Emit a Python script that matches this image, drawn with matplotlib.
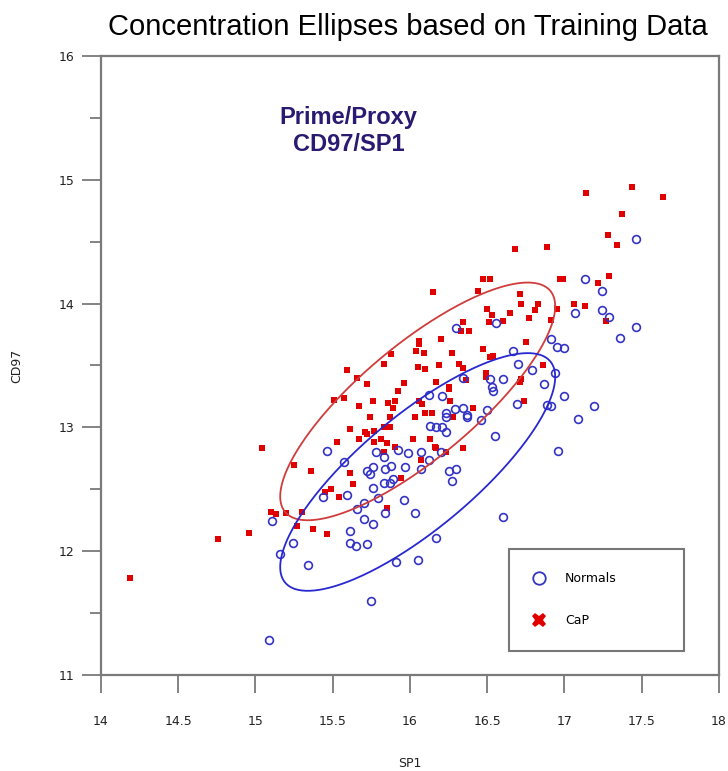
import numpy as np
import matplotlib
matplotlib.use("Agg")
import matplotlib.pyplot as plt
from matplotlib.lines import Line2D
from matplotlib.ticker import MultipleLocator

# CaP (red) training points: SP1, CD97
cap_sp1 = [14.19, 14.76, 14.96, 15.04, 15.10, 15.13, 15.20, 15.30, 15.27, 15.37,
           15.46, 15.25, 15.36, 15.45, 15.49, 15.54, 15.61, 15.63, 15.85, 15.94,
           16.07, 15.83, 15.53, 15.61, 15.67, 15.71, 15.72, 15.77, 15.77, 15.81,
           15.85, 15.90, 15.83, 15.87, 16.02, 16.13, 16.16, 16.17, 16.23, 16.34,
           15.74, 15.87, 16.03, 15.51, 15.57, 15.67, 15.76, 15.86, 15.90, 15.89,
           16.06, 16.08, 16.10, 16.14, 16.26, 16.41, 16.28, 15.59, 15.66, 15.72,
           15.83, 15.88, 15.92, 15.96, 16.04, 16.09, 16.05, 16.10, 16.19, 16.17,
           16.25, 16.25, 16.06, 16.06, 16.20, 16.27, 16.32, 16.34, 16.36, 16.49,
           16.49, 16.71, 16.72, 16.74, 16.86, 16.47, 16.52, 16.54, 16.75, 16.34,
           16.33, 16.38, 16.51, 16.60, 16.53, 16.65, 16.77, 16.91, 16.50, 16.81,
           16.72, 16.83, 16.95, 17.06, 17.13, 17.27, 16.71, 16.44, 16.15, 16.47,
           16.52, 16.97, 16.99, 17.22, 17.29, 16.68, 16.89, 17.28, 17.34, 17.37,
           17.14, 17.44, 17.64]
cap_cd97 = [11.78, 12.10, 12.15, 12.83, 12.32, 12.30, 12.31, 12.32, 12.20, 12.18,
            12.14, 12.70, 12.65, 12.48, 12.50, 12.44, 12.63, 12.54, 12.35, 12.59,
            12.74, 12.80, 12.88, 12.99, 12.91, 12.96, 12.95, 12.97, 12.88, 12.91,
            12.87, 12.84, 13.00, 13.00, 12.91, 12.91, 12.84, 12.83, 12.80, 12.83,
            13.08, 13.08, 13.08, 13.22, 13.24, 13.17, 13.21, 13.20, 13.21, 13.16,
            13.21, 13.19, 13.12, 13.12, 13.21, 13.16, 13.08, 13.46, 13.40, 13.35,
            13.51, 13.59, 13.29, 13.36, 13.62, 13.60, 13.49, 13.47, 13.50, 13.37,
            13.33, 13.31, 13.70, 13.67, 13.71, 13.60, 13.51, 13.48, 13.38, 13.44,
            13.41, 13.37, 13.39, 13.21, 13.50, 13.63, 13.57, 13.58, 13.69, 13.85,
            13.78, 13.78, 13.85, 13.86, 13.91, 13.92, 13.88, 13.87, 13.96, 13.95,
            14.00, 14.00, 13.96, 14.00, 13.98, 13.86, 14.08, 14.10, 14.09, 14.20,
            14.20, 14.20, 14.20, 14.17, 14.22, 14.44, 14.46, 14.55, 14.47, 14.72,
            14.89, 14.94, 14.86]

# Normals (blue) training points
nor_sp1 = [17.46, 17.13, 17.24, 17.07, 17.24, 17.29, 17.46, 17.36, 16.30, 16.56,
           16.91, 16.95, 17.00, 16.67, 16.70, 16.79, 16.94, 16.52, 16.60, 16.53,
           16.54, 16.34, 16.87, 17.00, 17.19, 16.69, 16.89, 16.91, 16.50, 16.34,
           16.29, 16.37, 16.37, 16.46, 17.09, 16.12, 16.21, 16.23, 16.23, 16.13,
           16.17, 16.21, 16.23, 16.20, 16.07, 16.12, 15.92, 15.99, 15.83, 15.78,
           15.97, 16.07, 15.88, 15.84, 15.76, 15.72, 15.74, 16.25, 16.30, 16.27,
           16.55, 16.96, 15.83, 15.87, 15.89, 15.76, 15.79, 15.96, 15.84, 16.03,
           16.60, 16.17, 15.91, 16.05, 15.46, 15.57, 15.44, 15.59, 15.70, 15.66,
           15.70, 15.76, 15.11, 15.24, 15.61, 15.61, 15.65, 15.72, 15.16, 15.34,
           15.75, 15.09]
nor_cd97 = [14.52, 14.20, 14.10, 13.92, 13.95, 13.89, 13.81, 13.72, 13.80, 13.84,
            13.71, 13.65, 13.64, 13.62, 13.51, 13.46, 13.44, 13.39, 13.39, 13.33,
            13.29, 13.40, 13.35, 13.25, 13.17, 13.19, 13.18, 13.17, 13.14, 13.16,
            13.15, 13.10, 13.08, 13.06, 13.07, 13.26, 13.25, 13.12, 13.08, 13.01,
            13.00, 13.00, 12.96, 12.80, 12.80, 12.74, 12.82, 12.79, 12.76, 12.80,
            12.68, 12.66, 12.69, 12.66, 12.68, 12.65, 12.62, 12.65, 12.66, 12.57,
            12.93, 12.81, 12.55, 12.55, 12.58, 12.51, 12.43, 12.41, 12.31, 12.31,
            12.28, 12.11, 11.91, 11.93, 12.81, 12.72, 12.44, 12.45, 12.39, 12.34,
            12.26, 12.22, 12.24, 12.07, 12.16, 12.07, 12.04, 12.06, 11.98, 11.89,
            11.60, 11.28]

# concentration ellipses (shared covariance): centre, half extents, correlation
ell_centre_nor = (16.05, 12.64)
ell_centre_cap = (16.05, 13.21)
ell_half_sp1 = 0.89
ell_half_cd97 = 0.96
ell_rho = 0.80

red = '#e00000'
blue = '#3434c4'
axgray = '#7a7a7a'

fig = plt.figure(figsize=(7.28, 7.71), dpi=100)
ax = fig.add_axes([0.1387, 0.1245, 0.8489, 0.8029])

ax.plot(cap_sp1, cap_cd97, ls='none', marker='s', ms=4.4, color=red, mew=0)
ax.plot(nor_sp1, nor_cd97, ls='none', marker='o', ms=5.6, mfc='none',
        mec=blue, mew=1.2)

t = np.linspace(0, 2 * np.pi, 400)
for (cx, cy), col in [(ell_centre_cap, '#d03c3c'), (ell_centre_nor, '#2828d0')]:
    ex = cx + ell_half_sp1 * np.cos(t)
    ey = cy + ell_half_cd97 * (ell_rho * np.cos(t) + np.sqrt(1 - ell_rho**2) * np.sin(t))
    ax.plot(ex, ey, color=col, lw=1.3)

ax.set_xlim(14, 18)
ax.set_ylim(11, 16)
ax.yaxis.set_major_locator(MultipleLocator(1))
ax.yaxis.set_minor_locator(MultipleLocator(0.5))
ax.set_xticks([14, 14.5, 15, 15.5, 16, 16.5, 17, 17.5, 18])
ax.set_xticklabels(['14', '14.5', '15', '15.5', '16', '16.5', '17', '17.5', '18'])

for s in ax.spines.values():
    s.set_color(axgray)
    s.set_linewidth(1.6)
ax.tick_params(axis='x', which='major', direction='out', length=13, width=1.3,
               color=axgray, pad=16, labelsize=9, labelcolor='#222222')
ax.tick_params(axis='y', which='major', direction='out', length=14, width=1.3,
               color=axgray, pad=5, labelsize=9, labelcolor='#222222')
ax.tick_params(axis='y', which='minor', direction='out', length=8, width=1.3,
               color=axgray)

ax.set_xlabel('SP1', fontsize=9, color='#222222')
ax.set_ylabel('CD97', fontsize=9, color='#222222')
ax.xaxis.set_label_coords(0.5, -0.133)
ax.yaxis.set_label_coords(-0.125, 0.5)

ax.text(0.401, 0.879, 'Prime/Proxy\nCD97/SP1', transform=ax.transAxes,
        ha='center', va='center', fontsize=17, fontweight='bold',
        family='Liberation Sans', color='#2b1a72', linespacing=1.25)

fig.text(0.5604, 0.965, 'Concentration Ellipses based on Training Data',
         ha='center', va='center', fontsize=21, family='Liberation Sans')

handles = [Line2D([], [], ls='none', marker='o', ms=9, mfc='none', mec=blue, mew=1.3),
           Line2D([], [], ls='none', marker='X', ms=10.5, color=red, mew=0)]
leg = ax.legend(handles, ['Normals', 'CaP'], loc='lower left',
                bbox_to_anchor=(0.66, 0.039, 0.283, 0.166), mode='expand',
                borderaxespad=0, fontsize=9, frameon=True, fancybox=False,
                borderpad=1.9, labelspacing=2.3, handlelength=1.0,
                handletextpad=1.6)
leg.get_frame().set_edgecolor('#555555')
leg.get_frame().set_linewidth(1.5)

fig.savefig('out.png', dpi=100)
